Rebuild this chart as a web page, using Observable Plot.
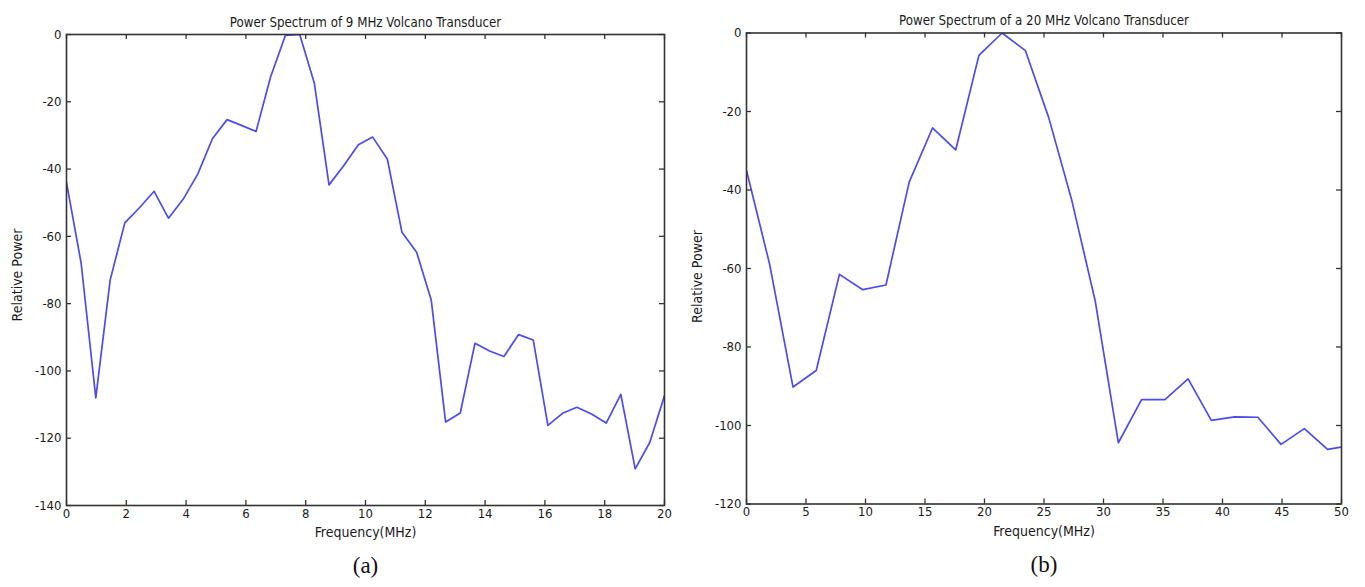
<!DOCTYPE html>
<html><head><meta charset="utf-8">
<script src="https://cdn.jsdelivr.net/npm/d3@7"></script>
<script src="https://cdn.jsdelivr.net/npm/@observablehq/plot@0.6"></script>
<style>
body{margin:0;background:#fff;}
#wrap{position:relative;width:1365px;height:587px;overflow:hidden;background:#fff;}
#a,#b{position:absolute;top:0;}
#a{left:0}
#b{left:683px}
</style></head><body><div id="wrap"><div id="a"></div><div id="b"></div></div>
<script>
// Panel (a): 9 MHz transducer
const freqA = [0,0.49,0.98,1.46,1.95,2.44,2.93,3.41,3.90,4.39,4.88,5.37,5.85,6.34,6.83,7.32,7.80,8.29,8.78,9.27,9.76,10.24,10.73,11.22,11.71,12.20,12.68,13.17,13.66,14.15,14.63,15.12,15.61,16.10,16.59,17.07,17.56,18.05,18.54,19.02,19.51,20.00];
const powerA = [-44,-68,-108,-73,-56,-51.5,-46.6,-54.6,-49,-41.5,-31,-25.3,-27,-28.8,-12.5,-0.3,0,-14.5,-44.7,-39,-32.8,-30.5,-37,-58.8,-64.7,-79,-115.2,-112.5,-91.8,-94.1,-95.7,-89.2,-90.8,-116.2,-112.6,-110.8,-112.8,-115.5,-107,-129.1,-121.2,-107.3];
const ticksAX = [0,2,4,6,8,10,12,14,16,18,20];
const ticksAY = [0,-20,-40,-60,-80,-100,-120,-140];
const titleA = "Power Spectrum of 9 MHz Volcano Transducer";
const captionA = "(a)";

// Panel (b): 20 MHz transducer
const freqB = [0,1.95,3.91,5.86,7.81,9.77,11.72,13.67,15.63,17.58,19.53,21.48,23.44,25.39,27.34,29.30,31.25,33.20,35.16,37.11,39.06,41.02,42.97,44.92,46.88,48.83,50.78];
const powerB = [-35,-59,-90.2,-86,-61.5,-65.4,-64.2,-38,-24.2,-29.8,-5.7,0,-4.5,-21.5,-42.7,-68.2,-104.4,-93.4,-93.4,-88.1,-98.7,-97.8,-97.9,-104.8,-100.8,-106.1,-105.1];
const ticksBX = [0,5,10,15,20,25,30,35,40,45,50];
const ticksBY = [0,-20,-40,-60,-80,-100,-120];
const titleB = "Power Spectrum of a 20 MHz Volcano Transducer";
const captionB = "(b)";

const xLabel = "Frequency(MHz)";
const yLabel = "Relative Power";

const FONT = "'Liberation Sans Narrow', 'DejaVu Sans Condensed', 'Arial Narrow', sans-serif";
const SERIF = "'Liberation Serif', 'DejaVu Serif', serif";
const LINE = "#4b4bef";
const AX = "#333";
const TXT = "#1a1a1a";

function panel(o) {
  const data = o.freq.map((f, i) => ({f, p: o.power[i]}));
  const fw = o.width - o.mL - o.mR, fh = o.height - o.mT - o.mB;
  const tl = 5;
  return Plot.plot({
    width: o.width, height: o.height,
    marginLeft: o.mL, marginRight: o.mR, marginTop: o.mT, marginBottom: o.mB,
    style: {fontFamily: FONT, fontSize: "13px", color: TXT, background: "#fff", overflow: "visible"},
    x: {domain: o.xDomain},
    y: {domain: o.yDomain},
    marks: [
      Plot.line(data, {x: "f", y: "p", stroke: LINE, strokeWidth: 1.7, clip: true}),
      Plot.tickX(o.xTicks, {x: d => d, insetTop: fh - tl, stroke: AX, strokeWidth: 1.3}),
      Plot.tickX(o.xTicks, {x: d => d, insetBottom: fh - tl, stroke: AX, strokeWidth: 1.3}),
      Plot.tickY(o.yTicks, {y: d => d, insetRight: fw - tl, stroke: AX, strokeWidth: 1.3}),
      Plot.tickY(o.yTicks, {y: d => d, insetLeft: fw - tl, stroke: AX, strokeWidth: 1.3}),
      Plot.frame({stroke: AX, strokeWidth: 1.6}),
      Plot.axisX({ticks: o.xTicks, tickSize: 0, tickPadding: 3, tickFormat: d => String(d), label: null, fontSize: 13, fill: TXT}),
      Plot.axisY({ticks: o.yTicks, tickSize: 0, tickPadding: 5, tickFormat: d => String(d), label: null, fontSize: 13, fill: TXT}),
      Plot.text([o.title], {text: d => d, frameAnchor: "top", dy: o.titleDy, fontSize: 13.2, fill: TXT}),
      Plot.text([xLabel], {text: d => d, frameAnchor: "bottom", dy: o.xLabelDy, fontSize: 14, fill: TXT}),
      Plot.text([yLabel], {text: d => d, frameAnchor: "left", textAnchor: "middle", dx: o.yLabelDx, dy: o.yLabelDy, rotate: -90, fontSize: 14, fill: TXT}),
      Plot.text([o.caption], {text: d => d, frameAnchor: "bottom", dy: o.capDy, fontSize: 23, fontFamily: SERIF, fill: "#111"})
    ]
  });
}

document.getElementById("a").append(panel({
  freq: freqA, power: powerA, xDomain: [0, 20], yDomain: [-140, 0],
  xTicks: ticksAX, yTicks: ticksAY,
  width: 683, height: 587, mL: 66, mR: 19, mT: 34, mB: 82,
  title: titleA, caption: captionA, titleDy: -17, xLabelDy: 31, yLabelDx: -49, yLabelDy: 5, capDy: 67
}));

document.getElementById("b").append(panel({
  freq: freqB, power: powerB, xDomain: [0, 50], yDomain: [-120, 0],
  xTicks: ticksBX, yTicks: ticksBY,
  width: 682, height: 587, mL: 63, mR: 24, mT: 32.5, mB: 83.5,
  title: titleB, caption: captionB, titleDy: -17.5, xLabelDy: 32, yLabelDx: -49, yLabelDy: 8, capDy: 68
}));
</script>
</body></html>
